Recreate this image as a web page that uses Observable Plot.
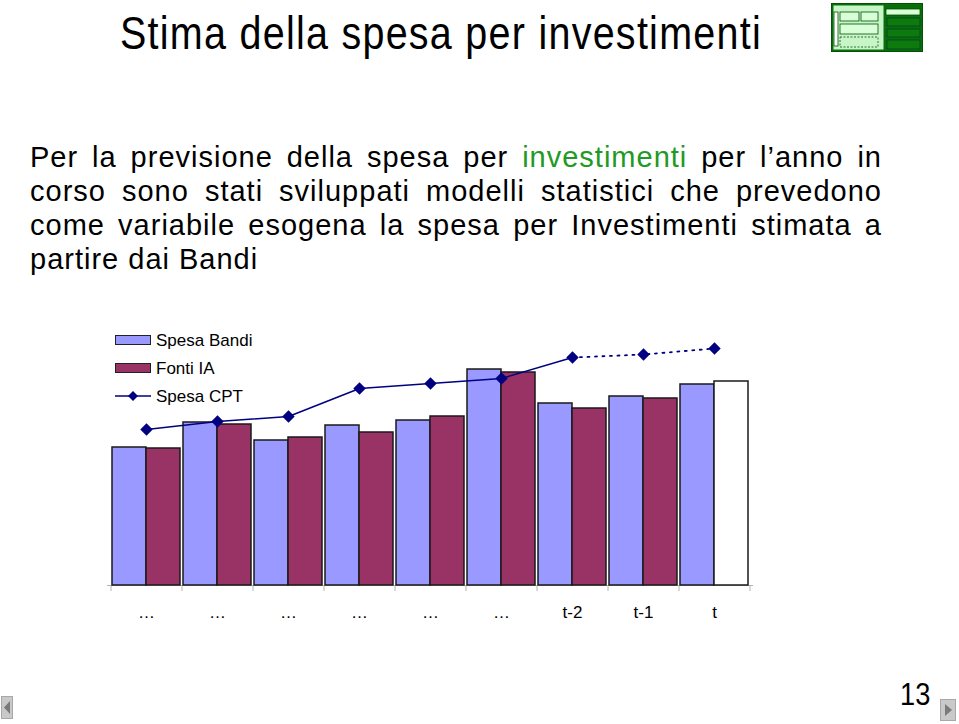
<!DOCTYPE html>
<html><head><meta charset="utf-8">
<script src="https://cdn.jsdelivr.net/npm/d3@7"></script>
<script src="https://cdn.jsdelivr.net/npm/@observablehq/plot@0.6"></script>
<style>
html,body{margin:0;padding:0;background:#fff;}
#page{position:relative;width:959px;height:724px;overflow:hidden;font-family:"Liberation Sans",Arial,sans-serif;color:#000;background:#fff;}
#title{position:absolute;left:120px;top:9px;font-family:"Liberation Sans",sans-serif;font-size:47px;line-height:47px;white-space:nowrap;transform-origin:0 0;}
#body{position:absolute;left:30px;top:140px;width:852px;font-size:29px;line-height:34px;letter-spacing:1px;white-space:nowrap;}
#body .j{text-align:justify;text-align-last:justify;white-space:normal;}
.green{color:#229922;}
#chart{position:absolute;left:0;top:320px;}
.lg{position:absolute;font-size:17px;line-height:17px;white-space:nowrap;}
.sw{position:absolute;width:34px;height:8px;border:1px solid #222;}
#pnum{position:absolute;left:900px;top:678px;font-family:"Liberation Sans",sans-serif;font-size:32px;line-height:32px;transform:scaleX(0.85);transform-origin:0 0;}
.abs{position:absolute;}
</style></head>
<body><div id="page">
<svg class="abs" style="left:831px;top:3px" width="92" height="49" viewBox="0 0 92 49">
  <rect x="0.5" y="0.5" width="91" height="48" fill="#0a6e0a" stroke="#045004"/>
  <rect x="2.5" y="2.5" width="50" height="44" fill="#c8f5c8"/>
  <rect x="3" y="9" width="4" height="34" fill="#ffffff" stroke="#045004" stroke-width="0.8"/>
  <rect x="9" y="9" width="19" height="9" fill="#d8ffd8" stroke="#045004" stroke-width="0.8"/>
  <rect x="30" y="9" width="17" height="9" fill="#d8ffd8" stroke="#045004" stroke-width="0.8"/>
  <rect x="9" y="21" width="38" height="10" fill="#d8ffd8" stroke="#045004" stroke-width="0.8"/>
  <rect x="9" y="34" width="38" height="10" fill="none" stroke="#045004" stroke-width="0.8" stroke-dasharray="2,1.5"/>
  <rect x="55" y="6" width="34" height="6" fill="#d8ffd8" stroke="#045004" stroke-width="0.8"/>
  <rect x="56" y="15" width="33" height="8" fill="#0c7a0c" stroke="#033" stroke-width="0.6"/>
  <rect x="56" y="26" width="33" height="8" fill="#0c7a0c" stroke="#033" stroke-width="0.6"/>
  <rect x="56" y="37" width="33" height="9" fill="#0c7a0c" stroke="#033" stroke-width="0.6"/>
</svg>
<div id="title">Stima della spesa per investimenti</div>
<div id="body">
  <div class="j">Per la previsione della spesa per <span class="green">investimenti</span> per l’anno in</div>
  <div class="j">corso sono stati sviluppati modelli statistici che prevedono</div>
  <div class="j">come variabile esogena la spesa per Investimenti stimata a</div>
  <div>partire dai Bandi</div>
</div>
<div id="chart"></div>
<div id="legend"></div>
<div id="pnum">13</div>
<svg class="abs" style="left:1px;top:696px" width="13" height="24" viewBox="0 0 13 24">
  <rect x="0.5" y="0.5" width="11" height="22" fill="#c9c9c9" stroke="#a8a8a8"/>
  <path d="M9,5 L3,11.5 L9,18 Z" fill="#7a7a7a"/>
</svg>
<svg class="abs" style="left:940px;top:699px" width="17" height="23" viewBox="0 0 17 23">
  <rect x="0.5" y="0.5" width="15" height="21" fill="#c9c9c9" stroke="#a8a8a8"/>
  <path d="M5,5 L12,11 L5,17 Z" fill="#7a7a7a"/>
</svg>
</div>
<script>
// ---- data ----
const labels = ["…","…","…","…","…","…","t-2","t-1","t"];
const spesaBandi = [138,163,145,160,165,216,182,189,201];
const fontiIA = [137,161,148,153,169,213,177,187];
const fontiIAStima = [204];            // period t (estimate, white bar)
const spesaCPT = [156,164,169,197,202,207,228,231,237];
const cptLastObserved = 6;              // dotted after t-2
const seriesNames = ["Spesa Bandi","Fonti IA","Spesa CPT"];
const colors = {bandi:"#9999ff", fonti:"#993366", cpt:"#000080"};

// ---- title fit: narrow glyphs, loose spacing ----
(function(){
  const t = document.getElementById("title");
  const sx = 0.84;
  const w0 = t.getBoundingClientRect().width;
  const n = t.textContent.length;
  const ls = (642 / sx - w0) / n;
  t.style.letterSpacing = ls + "px";
  t.style.transform = "scaleX(" + sx + ")";
})();

const idx = d3.range(labels.length);
const dims = {width:959, height:320, marginLeft:107, marginRight:206, marginTop:15, marginBottom:55};
const xopt = {type:"band", domain: idx, padding:0.04, axis:null};
const yopt = {domain:[0,250], axis:null};

const probe = Plot.plot({...dims, x:xopt, y:yopt, marks:[Plot.ruleY([0])]});
const bw = probe.scale("x").bandwidth;
const step = probe.scale("x").step;

const barStyle = {stroke:"#1a1a1a", strokeWidth:1.5};
const plot = Plot.plot({
  ...dims,
  x: xopt, y: yopt,
  style:{fontFamily:"Liberation Sans, Arial, sans-serif", background:"transparent", color:"#000"},
  marks:[
    Plot.ruleY([0], {stroke:"#b4b4b4", strokeWidth:1}),
    Plot.ruleX(idx, {x:i=>i, y1:0, y2:-6, stroke:"#b4b4b4", dx:-step/2}),
    Plot.ruleX([idx[idx.length-1]], {x:i=>i, y1:0, y2:-6, stroke:"#b4b4b4", dx:step/2}),
    Plot.barY(idx, {x:i=>i, y:i=>spesaBandi[i], fill:colors.bandi, ...barStyle, insetRight:bw/2}),
    Plot.barY(idx.slice(0, fontiIA.length), {x:i=>i, y:i=>fontiIA[i], fill:colors.fonti, ...barStyle, insetLeft:bw/2}),
    Plot.barY(idx.slice(fontiIA.length), {x:i=>i, y:(i,k)=>fontiIAStima[k], fill:"#ffffff", ...barStyle, insetLeft:bw/2}),
    Plot.line(idx.slice(0, cptLastObserved+1), {x:i=>i, y:i=>spesaCPT[i], stroke:colors.cpt, strokeWidth:1.5}),
    Plot.line(idx.slice(cptLastObserved), {x:i=>i, y:i=>spesaCPT[i], stroke:colors.cpt, strokeWidth:1.8, strokeDasharray:"2,5.5"}),
    Plot.dot(idx, {x:i=>i, y:i=>spesaCPT[i], symbol:"diamond2", r:5.6, fill:colors.cpt, stroke:"none"}),
    Plot.axisX({tickSize:0, tickPadding:20, tickFormat:i=>labels[i], fontSize:17, label:null, fill:"#000"})
  ]
});
document.getElementById("chart").appendChild(plot);

// ---- legend ----
const lg = document.getElementById("legend");
const rows = [340, 368, 396];
seriesNames.forEach((name, k) => {
  const cy = rows[k];
  if (k < 2) {
    const s = document.createElement("div");
    s.className = "sw";
    s.style.left = "115px"; s.style.top = (cy - 5) + "px";
    s.style.background = k === 0 ? colors.bandi : colors.fonti;
    lg.appendChild(s);
  } else {
    const ns = "http://www.w3.org/2000/svg";
    const sv = document.createElementNS(ns, "svg");
    sv.setAttribute("width", 40); sv.setAttribute("height", 14);
    sv.style.position = "absolute"; sv.style.left = "113px"; sv.style.top = (cy - 7) + "px";
    sv.innerHTML = `<line x1="2" y1="7" x2="38" y2="7" stroke="${colors.cpt}" stroke-width="1.5"/>
      <path d="M20,2 L25,7 L20,12 L15,7 Z" fill="${colors.cpt}"/>`;
    lg.appendChild(sv);
  }
  const t = document.createElement("div");
  t.className = "lg";
  t.textContent = name;
  t.style.left = "156px"; t.style.top = (cy - 8.5) + "px";
  lg.appendChild(t);
});
</script>
</body></html>
